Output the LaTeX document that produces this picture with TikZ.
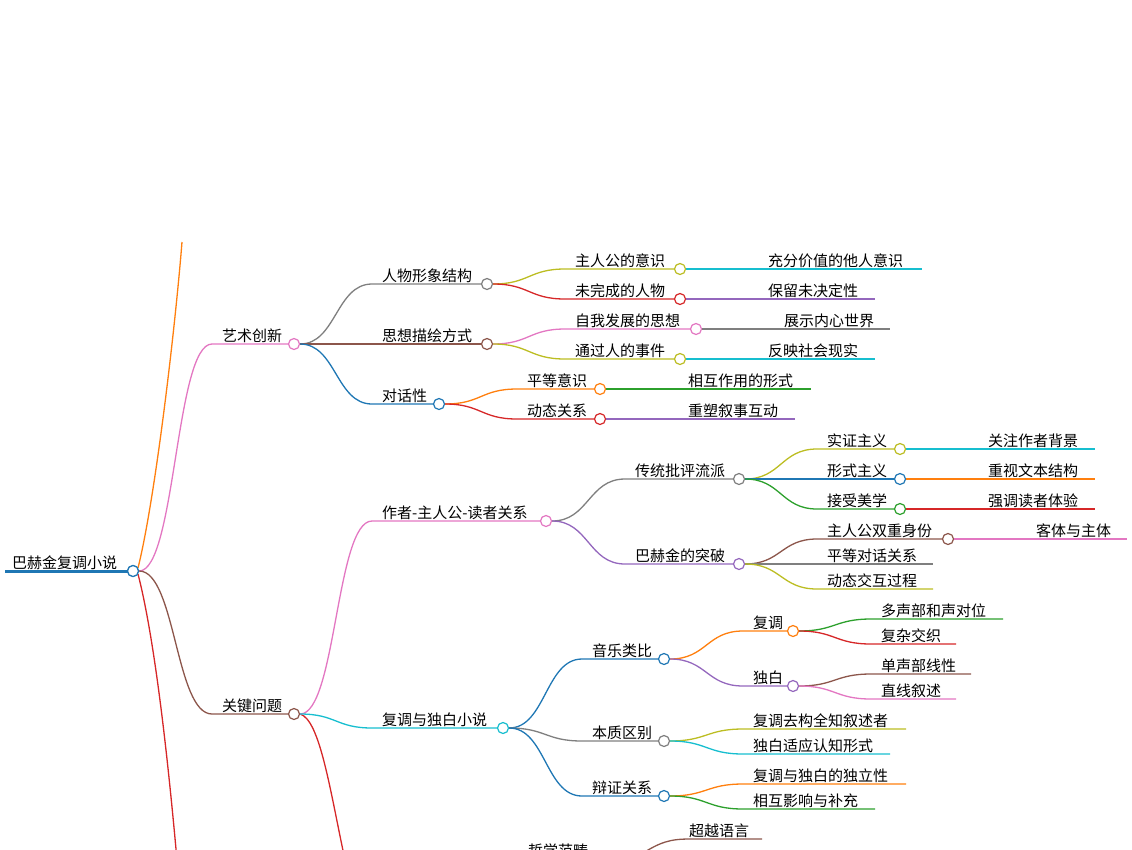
\documentclass[tikz,border=0pt]{standalone}
\usepackage{fontspec}
\setmainfont{Noto Sans CJK SC}
\usetikzlibrary{calc}
\definecolor{cb}{HTML}{1f77b4}\definecolor{co}{HTML}{ff7f0e}\definecolor{cg}{HTML}{2ca02c}
\definecolor{cr}{HTML}{d62728}\definecolor{cp}{HTML}{9467bd}\definecolor{cn}{HTML}{8c564b}
\definecolor{ck}{HTML}{e377c2}\definecolor{cy}{HTML}{7f7f7f}\definecolor{cl}{HTML}{bcbd22}
\definecolor{cc}{HTML}{17becf}
\tikzset{dot/.style={circle,draw=#1,fill=white,line width=1.2pt,minimum size=11pt,inner sep=0pt},
lbl/.style={anchor=south west,inner sep=0pt,font=\fontsize{15}{16}\selectfont,text=black},
edge/.style={line width=1.3pt}}
% #1 parent, #2 color, #3 line start x, #4 y, #5 end x, #6 text, #7 name, #8 dot?
\newcommand\br[8]{%
 \draw[edge,#2] let \p1=(#1.east) in (\p1) .. controls (\x1/2+#3pt/2,\y1) and (\x1/2+#3pt/2,-#4pt) .. (#3pt,-#4pt) -- (#5,#4);
 \node[lbl] at (#3+10,#4-1) {#6};
 \ifnum#8=1 \node[dot=#2] (#7) at (#5,#4) {};\else\coordinate (#7) at (#5,#4);\fi}
\begin{document}
\begin{tikzpicture}[x=1pt,y=-1pt]
\useasboundingbox (0,0) rectangle (1132,849);
\clip (0,0) rectangle (1132,849);
% root
\draw[cb,line width=3pt] (5,571) -- (133,571);
\node[lbl] at (12,570) {巴赫金复调小说};
\draw[edge,co] (138,568) .. controls (155,500) and (175,330) .. (182,242);
\draw[edge,cr] (138,574) .. controls (155,640) and (168,760) .. (177,860);
\node[dot=cb] (root) at (133,571) {};
\br{root}{ck}{212}{344}{294}{艺术创新}{art}{1}
\br{root}{cn}{212}{714}{294}{关键问题}{key}{1}
\node[dot=cb] at (133,571) {};
\draw[edge,cr] (key.east) .. controls (320,720) and (330,790) .. (345,860);
% art
\br{art}{cy}{372}{284}{487}{人物形象结构}{a1}{1}
\br{art}{cn}{372}{344}{487}{思想描绘方式}{a2}{1}
\br{art}{cb}{372}{404}{439}{对话性}{a3}{1}
\br{a1}{cl}{565}{269}{680}{主人公的意识}{a11}{1}
\br{a1}{cr}{565}{299}{680}{未完成的人物}{a12}{1}
\br{a11}{cc}{758}{269}{922}{充分价值的他人意识}{l1}{0}
\br{a12}{cp}{758}{299}{875}{保留未决定性}{l2}{0}
\br{a2}{ck}{565}{329}{696}{自我发展的思想}{a21}{1}
\br{a2}{cl}{565}{359}{680}{通过人的事件}{a22}{1}
\br{a21}{cy}{774}{329}{890}{展示内心世界}{l3}{0}
\br{a22}{cc}{758}{359}{875}{反映社会现实}{l4}{0}
\br{a3}{co}{517}{389}{600}{平等意识}{a31}{1}
\br{a3}{cr}{517}{419}{600}{动态关系}{a32}{1}
\br{a31}{cg}{678}{389}{811}{相互作用的形式}{l5}{0}
\br{a32}{cp}{678}{419}{795}{重塑叙事互动}{l6}{0}
% key
\br{key}{ck}{372}{521}{546}{作者-主人公-读者关系}{k1}{1}
\br{key}{cc}{372}{728}{503}{复调与独白小说}{k2}{1}
\br{k1}{cy}{625}{479}{739}{传统批评流派}{k11}{1}
\br{k1}{cp}{625}{564}{739}{巴赫金的突破}{k12}{1}
\br{k11}{cl}{817}{449}{900}{实证主义}{k111}{1}
\br{k11}{cb}{817}{479}{900}{形式主义}{k112}{1}
\br{k11}{cg}{817}{509}{900}{接受美学}{k113}{1}
\br{k111}{cc}{978}{449}{1095}{关注作者背景}{l7}{0}
\br{k112}{co}{978}{479}{1095}{重视文本结构}{l8}{0}
\br{k113}{cr}{978}{509}{1095}{强调读者体验}{l9}{0}
\br{k12}{cn}{817}{539}{948}{主人公双重身份}{k121}{1}
\br{k12}{cy}{817}{564}{933}{平等对话关系}{l10}{0}
\br{k12}{cl}{817}{589}{933}{动态交互过程}{l11}{0}
\br{k121}{ck}{1026}{539}{1127}{客体与主体}{l12}{0}
\br{k2}{cb}{582}{659}{664}{音乐类比}{m1}{1}
\br{k2}{cy}{582}{741}{664}{本质区别}{m2}{1}
\br{k2}{cb}{582}{796}{664}{辩证关系}{m3}{1}
\br{m1}{co}{743}{631}{793}{复调}{m11}{1}
\br{m1}{cp}{743}{686}{793}{独白}{m12}{1}
\br{m11}{cg}{871}{619}{1003}{多声部和声对位}{l13}{0}
\br{m11}{cr}{871}{644}{956}{复杂交织}{l14}{0}
\br{m12}{cn}{871}{674}{971}{单声部线性}{l15}{0}
\br{m12}{ck}{871}{699}{956}{直线叙述}{l16}{0}
\br{m2}{cl}{743}{729}{906}{复调去构全知叙述者}{l17}{0}
\br{m2}{cc}{743}{754}{890}{独白适应认知形式}{l18}{0}
\br{m3}{co}{743}{784}{906}{复调与独白的独立性}{l19}{0}
\br{m3}{cg}{743}{809}{875}{相互影响与补充}{l20}{0}
% bottom partial
\node[lbl] at (528,858) {哲学范畴};
\draw[edge,cn] (640,855) .. controls (660,842) and (670,839) .. (690,839) -- (762,839);
\node[lbl] at (689,838) {超越语言};
\end{tikzpicture}
\end{document}
